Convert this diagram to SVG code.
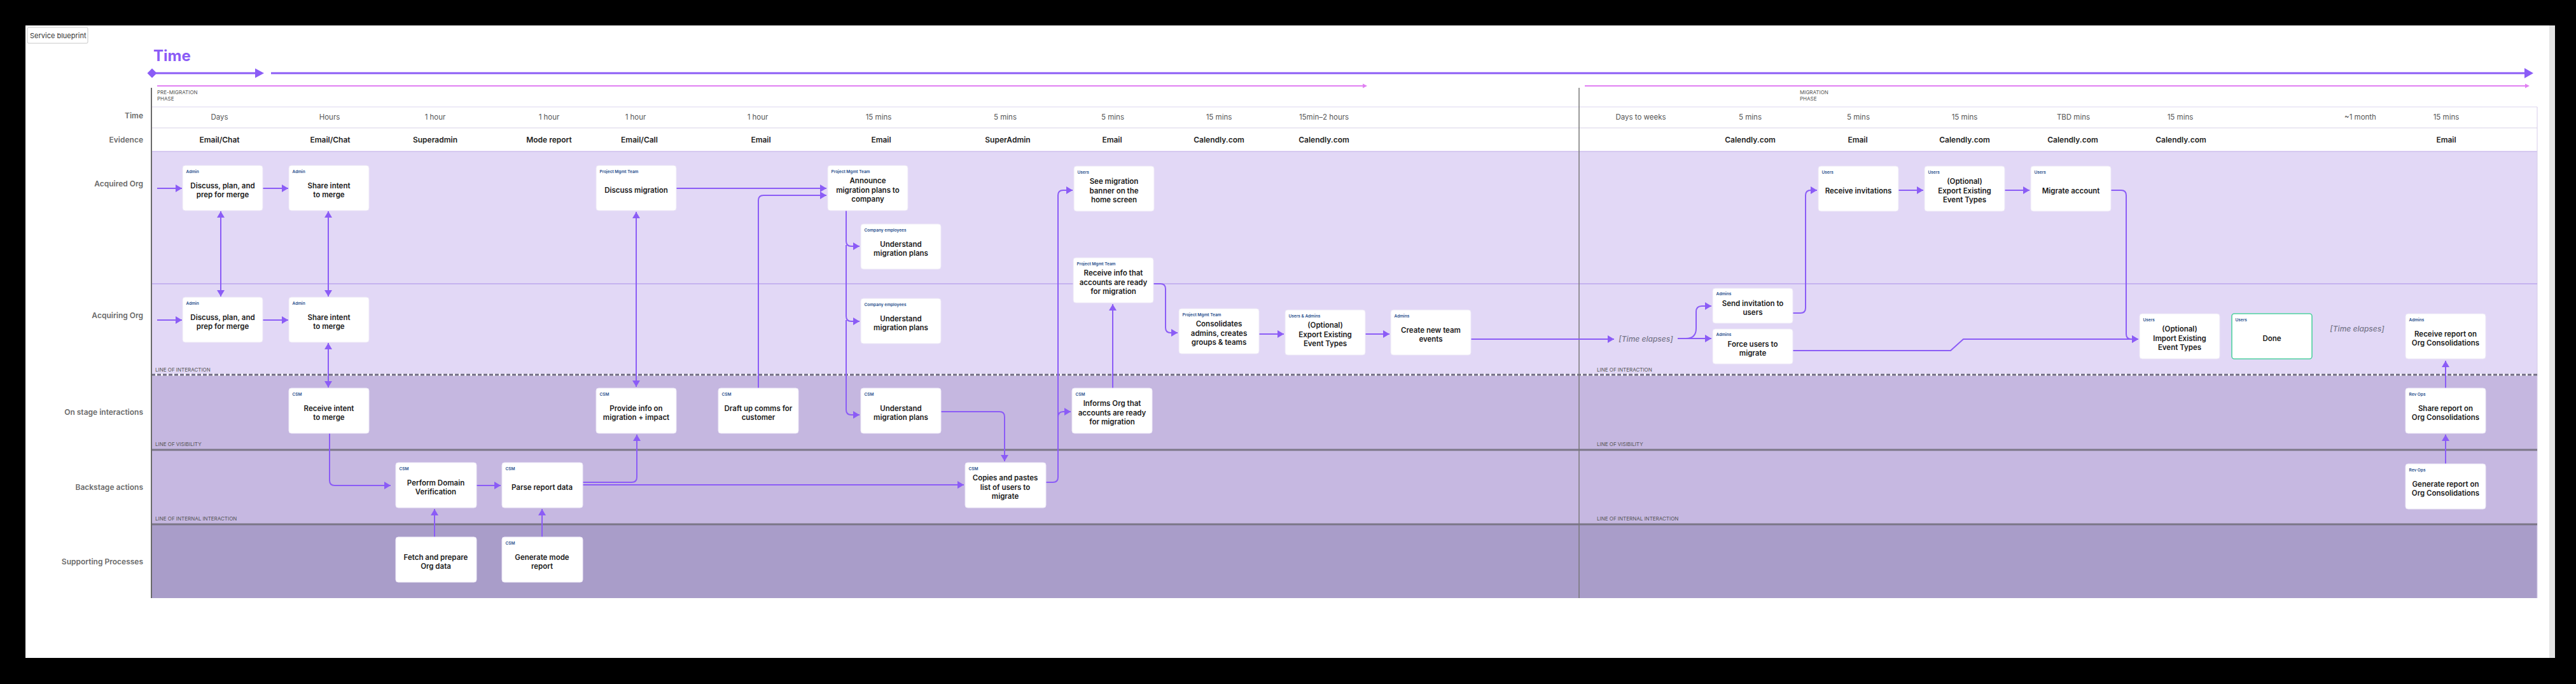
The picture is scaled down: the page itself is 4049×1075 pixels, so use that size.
<svg xmlns="http://www.w3.org/2000/svg" width="4049" height="1075" viewBox="0 0 4049 1075">
<defs>
<marker id="ah" viewBox="0 0 10 12" refX="10" refY="6" markerWidth="10" markerHeight="12" markerUnits="userSpaceOnUse" orient="auto-start-reverse"><path d="M0,0 L10,6 L0,12 z" fill="#8b5cf6"/></marker>
</defs>
<style>
.nd rect{fill:#fff;stroke:#ece7f6;stroke-width:1}
.nd .done{stroke:#4fd1a0;stroke-width:1.6}
.role{font-family:Inter,"Liberation Sans",sans-serif;font-weight:600;font-size:6.5px;fill:#1f4e8c}
.nt{font-family:Inter,"Liberation Sans",sans-serif;font-weight:600;font-size:11.5px;fill:#1b1b1b;text-anchor:middle}
.conn path{fill:none;stroke:#8b5cf6;stroke-width:2;stroke-linejoin:round}
.tm{font-family:Inter,"Liberation Sans",sans-serif;font-weight:400;font-size:11.5px;fill:#555;text-anchor:middle}
.ev{font-family:Inter,"Liberation Sans",sans-serif;font-weight:600;font-size:12px;fill:#222;text-anchor:middle}
.rl{font-family:Inter,"Liberation Sans",sans-serif;font-weight:600;font-size:12px;fill:#6b6b6b;text-anchor:end}
.ll{font-family:Inter,"Liberation Sans",sans-serif;font-weight:400;font-size:8px;fill:#555}
.el{font-family:Inter,"Liberation Sans",sans-serif;font-style:italic;font-weight:500;font-size:12px;fill:#77778a;text-anchor:middle}
</style>
<rect x="0" y="0" width="4049" height="1075" fill="#000"/>
<rect x="40" y="40" width="3967" height="994" fill="#fff"/>
<rect x="4007" y="40" width="9" height="994" fill="#e4e4e4"/>

<g id="title">
<rect x="43" y="43" width="95" height="25" rx="2" fill="#fff" stroke="#c8c8c8"/>
<text x="47" y="60" font-family="Inter,'Liberation Sans',sans-serif" font-size="11" fill="#333">Service blueprint</text>
<text x="241" y="96" font-family="Inter,'Liberation Sans',sans-serif" font-weight="700" font-size="24" fill="#8b5cf6">Time</text>
</g>

<g id="timeline">
<polygon points="239,107.5 246.5,115 239,122.5 231.5,115" fill="#8b5cf6"/>
<line x1="245" y1="115" x2="403" y2="115" stroke="#8b5cf6" stroke-width="3"/>
<polygon points="401,107.5 415,115 401,122.5" fill="#8b5cf6"/>
<line x1="426" y1="115" x2="3970" y2="115" stroke="#8b5cf6" stroke-width="3"/>
<polygon points="3968,107 3982,115 3968,123" fill="#8b5cf6"/>
<line x1="247" y1="135" x2="2144" y2="135" stroke="#e07ff2" stroke-width="1.8"/>
<polygon points="2142,131.5 2149,135 2142,138.5" fill="#e07ff2"/>
<line x1="2491" y1="135" x2="3971" y2="135" stroke="#e07ff2" stroke-width="1.8"/>
<polygon points="3969,131.5 3976,135 3969,138.5" fill="#e07ff2"/>
<text class="ll" x="247" y="148">PRE-MIGRATION</text>
<text class="ll" x="247" y="158">PHASE</text>
<text class="ll" x="2829" y="148">MIGRATION</text>
<text class="ll" x="2829" y="158">PHASE</text>
</g>

<g id="lanes">
<rect x="238" y="238" width="3750" height="351" fill="#e2d8f6"/>
<rect x="238" y="589" width="3750" height="118" fill="#c5b7e0"/>
<rect x="238" y="707" width="3750" height="117" fill="#c6b8e1"/>
<rect x="238" y="824" width="3750" height="116" fill="#a99dc9"/>
<line x1="238" y1="168" x2="3988" y2="168" stroke="#dcd6ee" stroke-width="1"/>
<line x1="238" y1="201" x2="3988" y2="201" stroke="#ebe8f2" stroke-width="2"/>
<line x1="238" y1="238" x2="3988" y2="238" stroke="#bca9e6" stroke-width="1"/>
<line x1="3988" y1="168" x2="3988" y2="940" stroke="#d6cdea" stroke-width="1"/>
<line x1="238" y1="446" x2="3988" y2="446" stroke="#a88de8" stroke-width="1"/>
<line x1="238" y1="589" x2="3988" y2="589" stroke="#fff" stroke-width="3"/>
<line x1="238" y1="589" x2="3988" y2="589" stroke="#6f6a82" stroke-width="3" stroke-dasharray="6 3"/>
<line x1="238" y1="707" x2="3988" y2="707" stroke="#7b7687" stroke-width="3"/>
<line x1="238" y1="824" x2="3988" y2="824" stroke="#7b7687" stroke-width="3"/>
<line x1="238" y1="138" x2="238" y2="940" stroke="#6a6a6a" stroke-width="2"/>
<line x1="2482" y1="138" x2="2482" y2="940" stroke="#777" stroke-width="1.5"/>
<text class="rl" x="225" y="186">Time</text>
<text class="rl" x="225" y="224">Evidence</text>
<text class="rl" x="225" y="293">Acquired Org</text>
<text class="rl" x="225" y="500">Acquiring Org</text>
<text class="rl" x="225" y="652">On stage interactions</text>
<text class="rl" x="225" y="770">Backstage actions</text>
<text class="rl" x="225" y="887">Supporting Processes</text>
<text class="ll" x="244" y="584">LINE OF INTERACTION</text>
<text class="ll" x="244" y="701">LINE OF VISIBILITY</text>
<text class="ll" x="244" y="818">LINE OF INTERNAL INTERACTION</text>
<text class="ll" x="2510" y="584">LINE OF INTERACTION</text>
<text class="ll" x="2510" y="701">LINE OF VISIBILITY</text>
<text class="ll" x="2510" y="818">LINE OF INTERNAL INTERACTION</text>
</g>

<g id="time-row">
<text class="tm" x="345" y="188">Days</text>
<text class="tm" x="518" y="188">Hours</text>
<text class="tm" x="684" y="188">1 hour</text>
<text class="tm" x="863" y="188">1 hour</text>
<text class="tm" x="999" y="188">1 hour</text>
<text class="tm" x="1191" y="188">1 hour</text>
<text class="tm" x="1381" y="188">15 mins</text>
<text class="tm" x="1580" y="188">5 mins</text>
<text class="tm" x="1749" y="188">5 mins</text>
<text class="tm" x="1916" y="188">15 mins</text>
<text class="tm" x="2081" y="188">15min–2 hours</text>
<text class="tm" x="2579" y="188">Days to weeks</text>
<text class="tm" x="2751" y="188">5 mins</text>
<text class="tm" x="2921" y="188">5 mins</text>
<text class="tm" x="3088" y="188">15 mins</text>
<text class="tm" x="3259" y="188">TBD mins</text>
<text class="tm" x="3427" y="188">15 mins</text>
<text class="tm" x="3710" y="188">~1 month</text>
<text class="tm" x="3845" y="188">15 mins</text>
</g>

<g id="evidence-row">
<text class="ev" x="345" y="224">Email/Chat</text>
<text class="ev" x="519" y="224">Email/Chat</text>
<text class="ev" x="684" y="224">Superadmin</text>
<text class="ev" x="863" y="224">Mode report</text>
<text class="ev" x="1005" y="224">Email/Call</text>
<text class="ev" x="1196" y="224">Email</text>
<text class="ev" x="1385" y="224">Email</text>
<text class="ev" x="1584" y="224">SuperAdmin</text>
<text class="ev" x="1748" y="224">Email</text>
<text class="ev" x="1916" y="224">Calendly.com</text>
<text class="ev" x="2081" y="224">Calendly.com</text>
<text class="ev" x="2751" y="224">Calendly.com</text>
<text class="ev" x="2920" y="224">Email</text>
<text class="ev" x="3088" y="224">Calendly.com</text>
<text class="ev" x="3258" y="224">Calendly.com</text>
<text class="ev" x="3428" y="224">Calendly.com</text>
<text class="ev" x="3845" y="224">Email</text>
</g>

<g id="connectors" class="conn">
<path d="M247,296 H286" marker-end="url(#ah)"/>
<path d="M413,296 H453" marker-end="url(#ah)"/>
<path d="M247,503 H286" marker-end="url(#ah)"/>
<path d="M413,503 H453" marker-end="url(#ah)"/>
<path d="M347,332 V466" marker-start="url(#ah)" marker-end="url(#ah)"/>
<path d="M516,332 V466" marker-start="url(#ah)" marker-end="url(#ah)"/>
<path d="M516,539 V609" marker-start="url(#ah)" marker-end="url(#ah)"/>
<path d="M518,681 V755 Q518,763 526,763 H614" marker-end="url(#ah)"/>
<path d="M683,844 V800" marker-end="url(#ah)"/>
<path d="M749,763 H787" marker-end="url(#ah)"/>
<path d="M852,844 V800" marker-end="url(#ah)"/>
<path d="M916,758 H993 Q1001,758 1001,750 V683" marker-end="url(#ah)"/>
<path d="M916,762 H1515" marker-end="url(#ah)"/>
<path d="M1000,333 V608" marker-start="url(#ah)" marker-end="url(#ah)"/>
<path d="M1062,296 H1299" marker-end="url(#ah)"/>
<path d="M1192,610 V315 Q1192,307 1200,307 H1299" marker-end="url(#ah)"/>
<path d="M1330,331 V379 Q1330,387 1338,387 H1351" marker-end="url(#ah)"/>
<path d="M1330,385 V497 Q1330,505 1338,505 H1351" marker-end="url(#ah)"/>
<path d="M1330,503 V644 Q1330,652 1338,652 H1351" marker-end="url(#ah)"/>
<path d="M1479,647 H1571 Q1579,647 1579,655 V725" marker-end="url(#ah)"/>
<path d="M1644,758 H1655 Q1663,758 1663,750 V307 Q1663,299 1671,299 H1686" marker-end="url(#ah)"/>
<path d="M1663,656 Q1663,647 1671,647 H1683" marker-end="url(#ah)"/>
<path d="M1749,610 V478" marker-end="url(#ah)"/>
<path d="M1813,446 H1824 Q1832,446 1832,454 V515 Q1832,523 1840,523 H1851" marker-end="url(#ah)"/>
<path d="M1979,525 H2018" marker-end="url(#ah)"/>
<path d="M2146,525 H2184" marker-end="url(#ah)"/>
<path d="M2312,533 H2537" marker-end="url(#ah)"/>
<path d="M2637,532 H2690" marker-end="url(#ah)"/>
<path d="M2650,532 Q2666,532 2666,516 V490 Q2666,481 2675,481 H2690" marker-end="url(#ah)"/>
<path d="M2818,492 H2830 Q2838,492 2838,484 V307 Q2838,299 2846,299 H2856" marker-end="url(#ah)"/>
<path d="M2984,299 H3023" marker-end="url(#ah)"/>
<path d="M3151,299 H3190" marker-end="url(#ah)"/>
<path d="M3318,299 H3334 Q3342,299 3342,307 V525 Q3342,533 3350,533 H3361" marker-end="url(#ah)"/>
<path d="M2818,551 H3066 L3086,533 H3361" marker-end="url(#ah)"/>
<path d="M3844,729 V683" marker-end="url(#ah)"/>
<path d="M3844,610 V567" marker-end="url(#ah)"/>
</g>
<text class="el" x="2587" y="537">[Time elapses]</text>
<text class="el" x="3705" y="521">[Time elapses]</text>

<g id="n-discuss-acquired" class="nd"><rect x="287" y="260" width="126" height="71" rx="4"/><text class="role" x="292.5" y="271.6">Admin</text><text class="nt" x="350" y="295.5">Discuss, plan, and</text><text class="nt" x="350" y="309.8">prep for merge</text></g>
<g id="n-share-acquired" class="nd"><rect x="454" y="260" width="126" height="71" rx="4"/><text class="role" x="459.5" y="271.6">Admin</text><text class="nt" x="517" y="295.5">Share intent</text><text class="nt" x="517" y="309.8">to merge</text></g>
<g id="n-discuss-migration" class="nd"><rect x="937" y="260" width="126" height="71" rx="4"/><text class="role" x="942.5" y="271.6">Project Mgmt Team</text><text class="nt" x="1000" y="302.7">Discuss migration</text></g>
<g id="n-announce" class="nd"><rect x="1301" y="260" width="126" height="71" rx="4"/><text class="role" x="1306.5" y="271.6">Project Mgmt Team</text><text class="nt" x="1364" y="288.4">Announce</text><text class="nt" x="1364" y="302.7">migration plans to</text><text class="nt" x="1364" y="317">company</text></g>
<g id="n-understand-acquired" class="nd"><rect x="1353" y="352" width="126" height="71" rx="4"/><text class="role" x="1358.5" y="363.6">Company employees</text><text class="nt" x="1416" y="387.5">Understand</text><text class="nt" x="1416" y="401.8">migration plans</text></g>
<g id="n-see-banner" class="nd"><rect x="1688" y="261" width="126" height="71" rx="4"/><text class="role" x="1693.5" y="272.6">Users</text><text class="nt" x="1751" y="289.4">See migration</text><text class="nt" x="1751" y="303.7">banner on the</text><text class="nt" x="1751" y="318">home screen</text></g>
<g id="n-receive-info" class="nd"><rect x="1687" y="405" width="126" height="71" rx="4"/><text class="role" x="1692.5" y="416.6">Project Mgmt Team</text><text class="nt" x="1750" y="433.4">Receive info that</text><text class="nt" x="1750" y="447.7">accounts are ready</text><text class="nt" x="1750" y="462">for migration</text></g>
<g id="n-receive-invitations" class="nd"><rect x="2858" y="261" width="126" height="71" rx="4"/><text class="role" x="2863.5" y="272.6">Users</text><text class="nt" x="2921" y="303.7">Receive invitations</text></g>
<g id="n-export-users" class="nd"><rect x="3025" y="261" width="126" height="71" rx="4"/><text class="role" x="3030.5" y="272.6">Users</text><text class="nt" x="3088" y="289.4">(Optional)</text><text class="nt" x="3088" y="303.7">Export Existing</text><text class="nt" x="3088" y="318">Event Types</text></g>
<g id="n-migrate-account" class="nd"><rect x="3192" y="261" width="126" height="71" rx="4"/><text class="role" x="3197.5" y="272.6">Users</text><text class="nt" x="3255" y="303.7">Migrate account</text></g>

<g id="n-discuss-acquiring" class="nd"><rect x="287" y="467" width="126" height="71" rx="4"/><text class="role" x="292.5" y="478.6">Admin</text><text class="nt" x="350" y="502.5">Discuss, plan, and</text><text class="nt" x="350" y="516.8">prep for merge</text></g>
<g id="n-share-acquiring" class="nd"><rect x="454" y="467" width="126" height="71" rx="4"/><text class="role" x="459.5" y="478.6">Admin</text><text class="nt" x="517" y="502.5">Share intent</text><text class="nt" x="517" y="516.8">to merge</text></g>
<g id="n-understand-acquiring" class="nd"><rect x="1353" y="469" width="126" height="71" rx="4"/><text class="role" x="1358.5" y="480.6">Company employees</text><text class="nt" x="1416" y="504.5">Understand</text><text class="nt" x="1416" y="518.8">migration plans</text></g>
<g id="n-consolidates" class="nd"><rect x="1853" y="485" width="126" height="71" rx="4"/><text class="role" x="1858.5" y="496.6">Project Mgmt Team</text><text class="nt" x="1916" y="513.4">Consolidates</text><text class="nt" x="1916" y="527.7">admins, creates</text><text class="nt" x="1916" y="542">groups &amp; teams</text></g>
<g id="n-export-admins" class="nd"><rect x="2020" y="487" width="126" height="71" rx="4"/><text class="role" x="2025.5" y="498.6">Users &amp; Admins</text><text class="nt" x="2083" y="515.4">(Optional)</text><text class="nt" x="2083" y="529.7">Export Existing</text><text class="nt" x="2083" y="544">Event Types</text></g>
<g id="n-create-events" class="nd"><rect x="2186" y="487" width="126" height="71" rx="4"/><text class="role" x="2191.5" y="498.6">Admins</text><text class="nt" x="2249" y="522.5">Create new team</text><text class="nt" x="2249" y="536.8">events</text></g>
<g id="n-send-invitation" class="nd"><rect x="2692" y="453" width="126" height="55" rx="4"/><text class="role" x="2697.5" y="464.4">Admins</text><text class="nt" x="2755" y="480.6">Send invitation to</text><text class="nt" x="2755" y="494.9">users</text></g>
<g id="n-force-users" class="nd"><rect x="2692" y="517" width="126" height="55" rx="4"/><text class="role" x="2697.5" y="528.4">Admins</text><text class="nt" x="2755" y="544.6">Force users to</text><text class="nt" x="2755" y="558.9">migrate</text></g>
<g id="n-import" class="nd"><rect x="3363" y="493" width="126" height="71" rx="4"/><text class="role" x="3368.5" y="504.6">Users</text><text class="nt" x="3426" y="521.4">(Optional)</text><text class="nt" x="3426" y="535.7">Import Existing</text><text class="nt" x="3426" y="550">Event Types</text></g>
<g id="n-done" class="nd"><rect class="done" x="3508" y="493" width="126" height="71" rx="4"/><text class="role" x="3513.5" y="504.6">Users</text><text class="nt" x="3571" y="535.7">Done</text></g>
<g id="n-receive-report" class="nd"><rect x="3781" y="493" width="126" height="71" rx="4"/><text class="role" x="3786.5" y="504.6">Admins</text><text class="nt" x="3844" y="528.5">Receive report on</text><text class="nt" x="3844" y="542.8">Org Consolidations</text></g>

<g id="n-receive-intent" class="nd"><rect x="454" y="610" width="126" height="71" rx="4"/><text class="role" x="459.5" y="621.6">CSM</text><text class="nt" x="517" y="645.5">Receive intent</text><text class="nt" x="517" y="659.8">to merge</text></g>
<g id="n-provide-info" class="nd"><rect x="937" y="610" width="126" height="71" rx="4"/><text class="role" x="942.5" y="621.6">CSM</text><text class="nt" x="1000" y="645.5">Provide info on</text><text class="nt" x="1000" y="659.8">migration + impact</text></g>
<g id="n-draft-comms" class="nd"><rect x="1129" y="610" width="126" height="71" rx="4"/><text class="role" x="1134.5" y="621.6">CSM</text><text class="nt" x="1192" y="645.5">Draft up comms for</text><text class="nt" x="1192" y="659.8">customer</text></g>
<g id="n-understand-csm" class="nd"><rect x="1353" y="610" width="126" height="71" rx="4"/><text class="role" x="1358.5" y="621.6">CSM</text><text class="nt" x="1416" y="645.5">Understand</text><text class="nt" x="1416" y="659.8">migration plans</text></g>
<g id="n-informs-org" class="nd"><rect x="1685" y="610" width="126" height="71" rx="4"/><text class="role" x="1690.5" y="621.6">CSM</text><text class="nt" x="1748" y="638.4">Informs Org that</text><text class="nt" x="1748" y="652.7">accounts are ready</text><text class="nt" x="1748" y="667">for migration</text></g>
<g id="n-share-report" class="nd"><rect x="3781" y="610" width="126" height="71" rx="4"/><text class="role" x="3786.5" y="621.6">Rev Ops</text><text class="nt" x="3844" y="645.5">Share report on</text><text class="nt" x="3844" y="659.8">Org Consolidations</text></g>

<g id="n-perform-verification" class="nd"><rect x="622" y="727" width="127" height="71" rx="4"/><text class="role" x="627.5" y="738.6">CSM</text><text class="nt" x="685" y="762.5">Perform Domain</text><text class="nt" x="685" y="776.8">Verification</text></g>
<g id="n-parse-report" class="nd"><rect x="789" y="727" width="127" height="71" rx="4"/><text class="role" x="794.5" y="738.6">CSM</text><text class="nt" x="852" y="769.7">Parse report data</text></g>
<g id="n-copies-pastes" class="nd"><rect x="1517" y="727" width="127" height="71" rx="4"/><text class="role" x="1522.5" y="738.6">CSM</text><text class="nt" x="1580" y="755.4">Copies and pastes</text><text class="nt" x="1580" y="769.7">list of users to</text><text class="nt" x="1580" y="784">migrate</text></g>
<g id="n-generate-report" class="nd"><rect x="3781" y="729" width="126" height="71" rx="4"/><text class="role" x="3786.5" y="740.6">Rev Ops</text><text class="nt" x="3844" y="764.5">Generate report on</text><text class="nt" x="3844" y="778.8">Org Consolidations</text></g>

<g id="n-fetch-data" class="nd"><rect x="622" y="844" width="127" height="71" rx="4"/><text class="nt" x="685" y="879.5">Fetch and prepare</text><text class="nt" x="685" y="893.8">Org data</text></g>
<g id="n-generate-mode" class="nd"><rect x="789" y="844" width="127" height="71" rx="4"/><text class="role" x="794.5" y="855.6">CSM</text><text class="nt" x="852" y="879.5">Generate mode</text><text class="nt" x="852" y="893.8">report</text></g>
</svg>
